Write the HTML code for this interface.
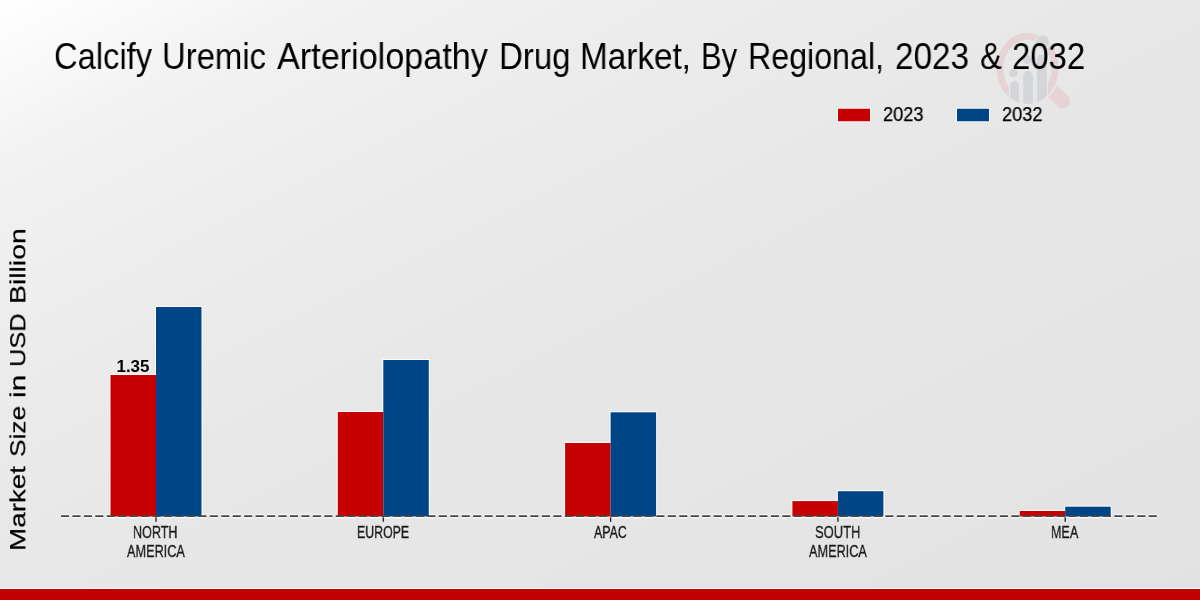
<!DOCTYPE html>
<html>
<head>
<meta charset="utf-8">
<style>
html,body{margin:0;padding:0;}
html{background:#e5e5e5;}
body{width:1200px;height:600px;overflow:hidden;position:relative;
  background:linear-gradient(to bottom right,#ffffff 0%,#f2f2f2 14%,#ececec 30%,#e7e7e7 50%,#e5e5e5 75%,#e2e2e2 100%);
  font-family:"Liberation Sans",sans-serif;}
.t{position:absolute;white-space:nowrap;line-height:1;transform-origin:0 0;will-change:transform;}
.tw{top:39px;font-size:36.7px;color:#000;}
.leg{font-size:19.4px;color:#000;-webkit-text-stroke:0.25px #000;top:105.3px;transform:scaleX(0.94);}
.yw{font-size:27.7px;color:#000;left:7.2px;-webkit-text-stroke:0.25px #000;}
.xl{font-size:17.25px;color:#1a1a1a;-webkit-text-stroke:0.35px #1a1a1a;}
#val{font-size:15.6px;font-weight:bold;color:#000;width:100px;text-align:center;transform:scaleX(1.09);transform-origin:50px 0;}
svg{position:absolute;left:0;top:0;}
</style>
</head>
<body>
<svg width="1200" height="600" viewBox="0 0 1200 600">
  <!-- watermark logo -->
  <defs>
    <clipPath id="lc"><ellipse cx="1027.5" cy="68.5" rx="31" ry="35.5"/></clipPath>
    <mask id="hm" maskUnits="userSpaceOnUse" x="980" y="20" width="110" height="100"><rect x="980" y="20" width="110" height="100" fill="#fff"/><ellipse cx="1027.5" cy="68.5" rx="33" ry="37.6" fill="#000"/></mask>
  </defs>
  <g>
    <path d="M1010.89,94.14 A27.60,32.10 0 1 1 1045.97,92.35" fill="none" stroke="#e5d3d6" stroke-width="6.8"/>
    <line x1="1040" y1="80" x2="1062.8" y2="101.3" stroke="#e5d3d6" stroke-width="14.5" stroke-linecap="round" mask="url(#hm)"/>
    <g clip-path="url(#lc)" fill="#d4d5d8" stroke="#e8e8e8" stroke-width="1.2">
      <rect x="1009.6" y="80.5" width="10" height="40" rx="5"/>
      <rect x="1022.7" y="70.5" width="10.8" height="40" rx="5.4"/>
      <rect x="1036.3" y="54" width="11" height="60" rx="5.5"/>
    </g>
    <g fill="#d4d5d8" stroke="#e8e8e8" stroke-width="1.2">
      <circle cx="1013.4" cy="73" r="5"/>
      <circle cx="1027.2" cy="59.5" r="5.2"/>
      <circle cx="1042.5" cy="42" r="7.3"/>
    </g>
  </g>
  <!-- bar halos -->
  <g fill="#ffffff" opacity="0.85">
    <rect x="109.5" y="374" width="93" height="143.5"/>
    <rect x="155" y="306" width="47.5" height="211.5"/>
    <rect x="336.8" y="411" width="93" height="106.5"/>
    <rect x="382.3" y="359" width="47.5" height="158.5"/>
    <rect x="564.1" y="442" width="93" height="75.5"/>
    <rect x="609.6" y="411.3" width="47.5" height="106.2"/>
    <rect x="791.4" y="500.1" width="93" height="17.4"/>
    <rect x="836.9" y="490.2" width="47.5" height="27.3"/>
    <rect x="1018.7" y="510" width="93" height="7.5"/>
    <rect x="1064.2" y="505.7" width="47.5" height="11.8"/>
  </g>
  <!-- dash halos -->
  <line x1="61" y1="514.6" x2="1158.5" y2="514.6" stroke="#ffffff" stroke-width="1" stroke-dasharray="8 3.45" opacity="0.8"/>
  <line x1="61" y1="517.8" x2="1158.5" y2="517.8" stroke="#ffffff" stroke-width="1" stroke-dasharray="8 3.45" opacity="0.8"/>
  <!-- bars -->
  <g fill="#c60000">
    <rect x="110.5" y="375" width="45.5" height="141.5"/>
    <rect x="337.8" y="412" width="45.5" height="104.5"/>
    <rect x="565.1" y="443" width="45.5" height="73.5"/>
    <rect x="792.4" y="501.1" width="45.5" height="15.4"/>
    <rect x="1019.7" y="511" width="45.5" height="5.5"/>
  </g>
  <g fill="#004687">
    <rect x="156" y="307" width="45.5" height="209.5"/>
    <rect x="383.3" y="360" width="45.5" height="156.5"/>
    <rect x="610.6" y="412.3" width="45.5" height="104.2"/>
    <rect x="837.9" y="491.2" width="45.5" height="25.3"/>
    <rect x="1065.2" y="506.7" width="45.5" height="9.8"/>
  </g>
  <!-- dashed baseline -->
  <line x1="61" y1="516.1" x2="1158.5" y2="516.1" stroke="#474747" stroke-width="1.7" stroke-dasharray="8 3.45"/>
  <!-- ticks -->
  <g stroke="#1a1a1a" stroke-width="1.3">
    <line x1="156" y1="517.3" x2="156" y2="521.8"/>
    <line x1="383.3" y1="517.3" x2="383.3" y2="521.8"/>
    <line x1="610.6" y1="517.3" x2="610.6" y2="521.8"/>
    <line x1="837.9" y1="517.3" x2="837.9" y2="521.8"/>
    <line x1="1065.2" y1="517.3" x2="1065.2" y2="521.8"/>
  </g>
  <!-- legend swatches -->
  <rect x="837" y="107.75" width="34" height="14.5" fill="#ffffff" opacity="0.7"/>
  <rect x="956" y="107.75" width="34" height="14.5" fill="#ffffff" opacity="0.7"/>
  <rect x="838" y="108.75" width="32" height="12.5" fill="#c60000"/>
  <rect x="957" y="108.75" width="32" height="12.5" fill="#004687"/>
  <!-- bottom strip -->
  <rect x="0" y="588" width="1200" height="1" fill="#ffffff" opacity="0.75"/>
  <rect x="0" y="589" width="1200" height="11" fill="#c00000"/>
</svg>

<div class="t tw" style="left:53.92px;transform:scaleX(0.8909)">Calcify</div>
<div class="t tw" style="left:162.22px;transform:scaleX(0.8958)">Uremic</div>
<div class="t tw" style="left:277.44px;transform:scaleX(0.9316)">Arteriolopathy</div>
<div class="t tw" style="left:498.56px;transform:scaleX(0.9002)">Drug</div>
<div class="t tw" style="left:580.49px;transform:scaleX(0.9075)">Market,</div>
<div class="t tw" style="left:701.29px;transform:scaleX(0.843)">By</div>
<div class="t tw" style="left:748.45px;transform:scaleX(0.8776)">Regional,</div>
<div class="t tw" style="left:895.0px;transform:scaleX(0.9067)">2023</div>
<div class="t tw" style="left:979.87px;transform:scaleX(0.8939)">&amp;</div>
<div class="t tw" style="left:1012.3px;transform:scaleX(0.8962)">2032</div>
<div class="t leg" style="left:882.5px">2023</div>
<div class="t leg" style="left:1001.5px">2032</div>
<div class="t yw" style="top:551.21px;transform:rotate(-90deg) scale(1.0047,0.795)">Market</div>
<div class="t yw" style="top:457.39px;transform:rotate(-90deg) scale(0.9507,0.795)">Size</div>
<div class="t yw" style="top:397.87px;transform:rotate(-90deg) scale(1.0774,0.795)">in</div>
<div class="t yw" style="top:366.55px;transform:rotate(-90deg) scale(0.9168,0.795)">USD</div>
<div class="t yw" style="top:303.91px;transform:rotate(-90deg) scale(1.0251,0.795)">Billion</div>
<div id="val" class="t" style="left:83.25px;top:358.8px">1.35</div>
<div class="t xl" style="left:133.27px;top:524.4px;transform:scaleX(0.7288)">NORTH</div>
<div class="t xl" style="left:127.3px;top:543.4px;transform:scaleX(0.7359)">AMERICA</div>
<div class="t xl" style="left:357.48px;top:524.4px;transform:scaleX(0.7155)">EUROPE</div>
<div class="t xl" style="left:593.5px;top:524.4px;transform:scaleX(0.7167)">APAC</div>
<div class="t xl" style="left:815.0px;top:524.4px;transform:scaleX(0.7509)">SOUTH</div>
<div class="t xl" style="left:808.6px;top:543.4px;transform:scaleX(0.7359)">AMERICA</div>
<div class="t xl" style="left:1051.37px;top:524.4px;transform:scaleX(0.7278)">MEA</div>
</body>
</html>
